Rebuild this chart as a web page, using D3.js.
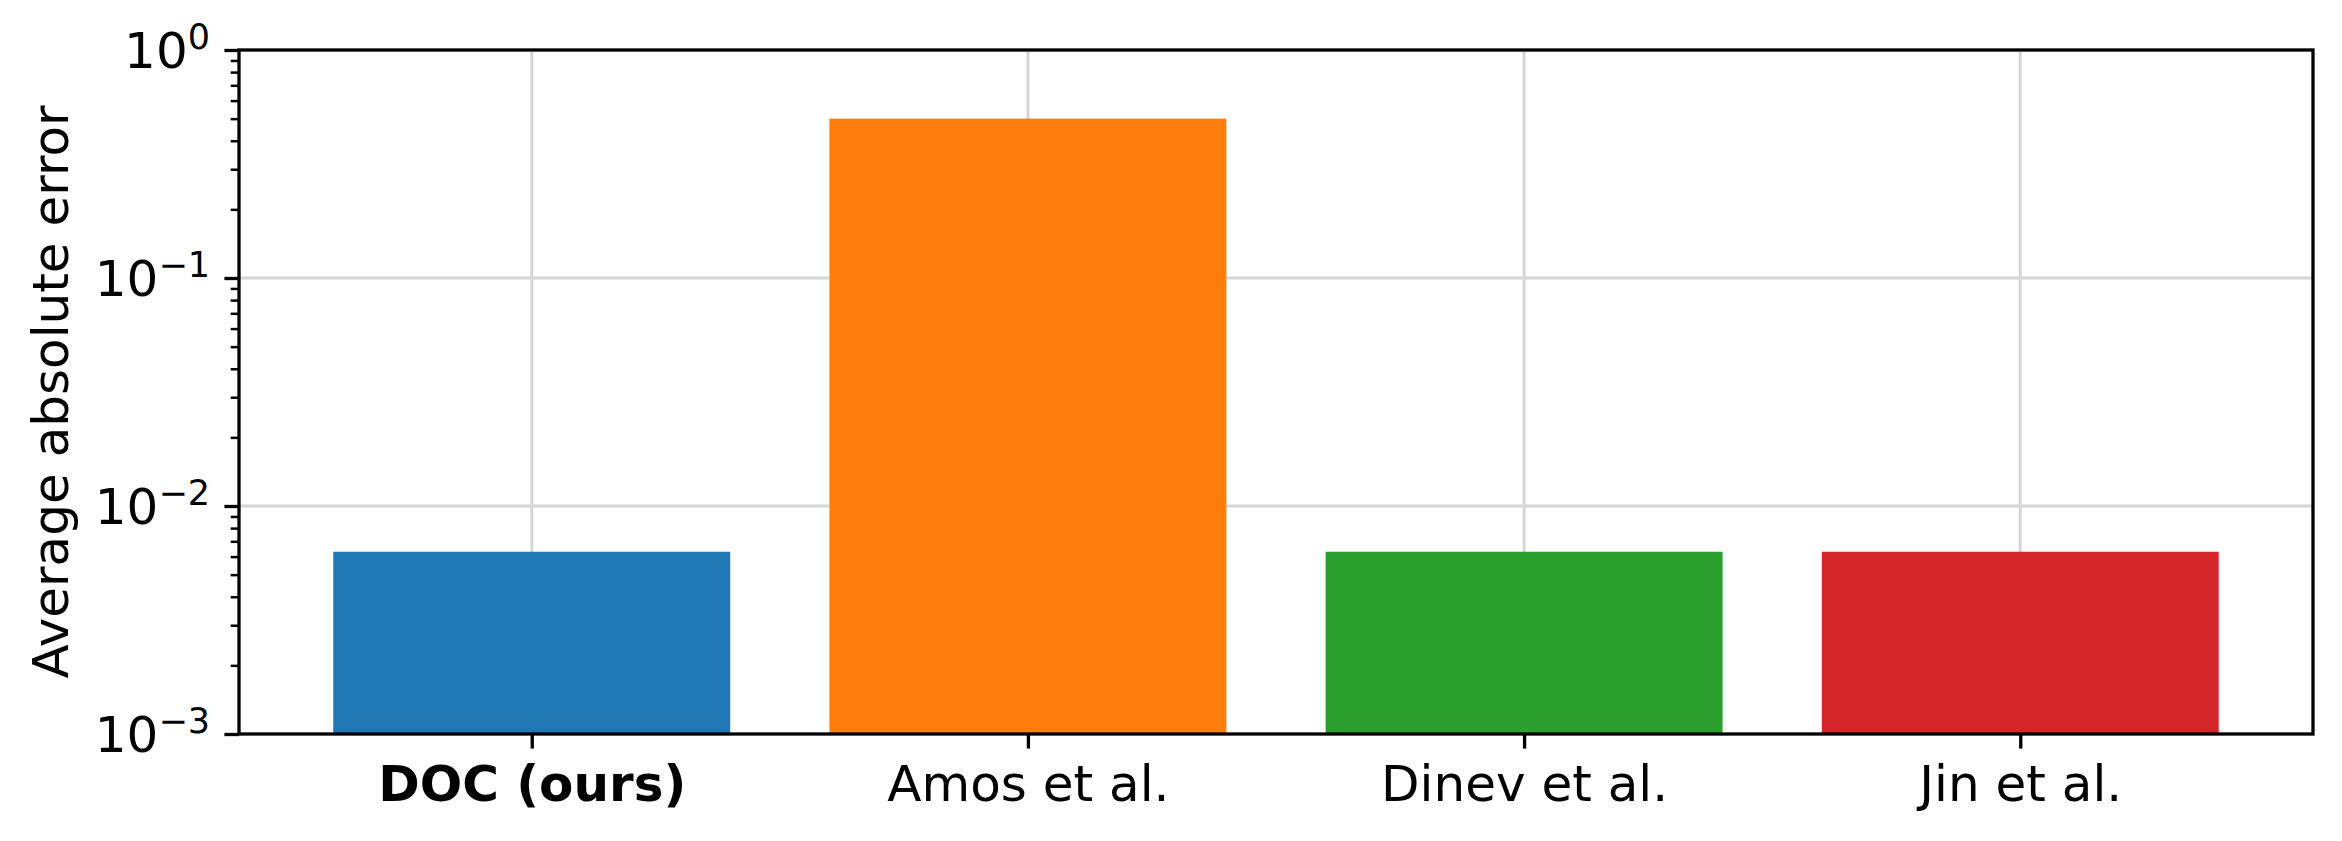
<!DOCTYPE html>
<html>
<head>
<meta charset="utf-8">
<script src="https://cdn.jsdelivr.net/npm/d3@7"></script>
<style>
  body { margin: 0; background: #fff; }
  text { font-family: "DejaVu Sans", sans-serif; }
</style>
</head>
<body>
<div id="vis-container"></div>
<script>
// data
const methods = ["DOC (ours)", "Amos et al.", "Dinev et al.", "Jin et al."];
const errors = [0.0063, 0.5, 0.0063, 0.0063];
const barColors = ["#1f77b4", "#ff7f0e", "#2ca02c", "#d62728"];
const yMajor = [1e-3, 1e-2, 1e-1, 1];
const yExp = ["\u22123", "\u22122", "\u22121", "0"];

const width = 2342;
const height = 841;
const margin = {left: 239, right: 29, top: 50, bottom: 107};
const fontSize = 50;

const svg = d3.select("#vis-container")
  .append("svg")
  .attr("width", width)
  .attr("height", height);

// x is positional index like matplotlib, with its default margins
const x = d3.scaleLinear()
  .domain([-0.59, 3.59])
  .range([margin.left, width - margin.right]);

const y = d3.scaleLog()
  .domain([1e-3, 1])
  .range([height - margin.bottom, margin.top]);

const barW = 0.8;

// minor tick values 2..9 x 10^k
const yMinor = [];
[1e-3, 1e-2, 1e-1].forEach(b => {
  for (let m = 2; m <= 9; m++) yMinor.push(b * m);
});

// grid (behind bars)
svg.append("g")
  .selectAll("line")
  .data([0, 1, 2, 3])
  .join("line")
  .attr("x1", d => x(d)).attr("x2", d => x(d))
  .attr("y1", margin.top).attr("y2", height - margin.bottom)
  .attr("stroke", "#d6d6d6")
  .attr("stroke-width", 3);

svg.append("g")
  .selectAll("line")
  .data([1e-2, 1e-1])
  .join("line")
  .attr("x1", margin.left).attr("x2", width - margin.right)
  .attr("y1", d => y(d)).attr("y2", d => y(d))
  .attr("stroke", "#d6d6d6")
  .attr("stroke-width", 3);

// bars
svg.selectAll(".bar")
  .data(errors)
  .join("rect")
  .attr("class", "bar")
  .attr("x", (d, i) => x(i - barW / 2))
  .attr("width", (d, i) => x(i + barW / 2) - x(i - barW / 2))
  .attr("y", d => y(d))
  .attr("height", d => y(1e-3) - y(d))
  .attr("fill", (d, i) => barColors[i]);

// x axis
const xAxis = svg.append("g")
  .attr("transform", `translate(0,${height - margin.bottom})`)
  .call(d3.axisBottom(x)
    .tickValues([0, 1, 2, 3])
    .tickFormat(i => methods[i])
    .tickSize(14.6)
    .tickPadding(14));
xAxis.select(".domain").remove();
xAxis.selectAll(".tick line").attr("stroke", "#000").attr("stroke-width", 3.3);
xAxis.selectAll(".tick text")
  .attr("font-size", fontSize + "px")
  .attr("fill", "#000")
  .attr("dy", null)
  .attr("y", 67)
  .attr("font-weight", (d, i) => i === 0 ? "bold" : "normal");

// y axis major
const yAxis = svg.append("g")
  .attr("transform", `translate(${margin.left},0)`)
  .call(d3.axisLeft(y).tickValues(yMajor).tickFormat("").tickSize(14.6));
yAxis.select(".domain").remove();
yAxis.selectAll(".tick line").attr("stroke", "#000").attr("stroke-width", 3.3);

// y axis minor
const yAxisMinor = svg.append("g")
  .attr("transform", `translate(${margin.left},0)`)
  .call(d3.axisLeft(y).tickValues(yMinor).tickFormat("").tickSize(8.3));
yAxisMinor.select(".domain").remove();
yAxisMinor.selectAll(".tick line").attr("stroke", "#000").attr("stroke-width", 2.5);

// y tick labels like 10^k
const labs = svg.append("g")
  .selectAll("text")
  .data(yMajor)
  .join("text")
  .attr("x", margin.left - 29)
  .attr("y", d => y(d) + 18)
  .attr("text-anchor", "end")
  .attr("font-size", fontSize + "px")
  .attr("fill", "#000");
labs.append("tspan").text("10");
labs.append("tspan")
  .attr("font-size", "35px")
  .attr("dy", -19)
  .text((d, i) => yExp[i]);

// frame
svg.append("rect")
  .attr("x", margin.left)
  .attr("y", margin.top)
  .attr("width", width - margin.left - margin.right)
  .attr("height", height - margin.top - margin.bottom)
  .attr("fill", "none")
  .attr("stroke", "#000")
  .attr("stroke-width", 3.3);

// y label
svg.append("text")
  .attr("transform", `translate(68,${(margin.top + height - margin.bottom) / 2}) rotate(-90)`)
  .attr("text-anchor", "middle")
  .attr("font-size", fontSize + "px")
  .attr("fill", "#000")
  .text("Average absolute error");
</script>
</body>
</html>
